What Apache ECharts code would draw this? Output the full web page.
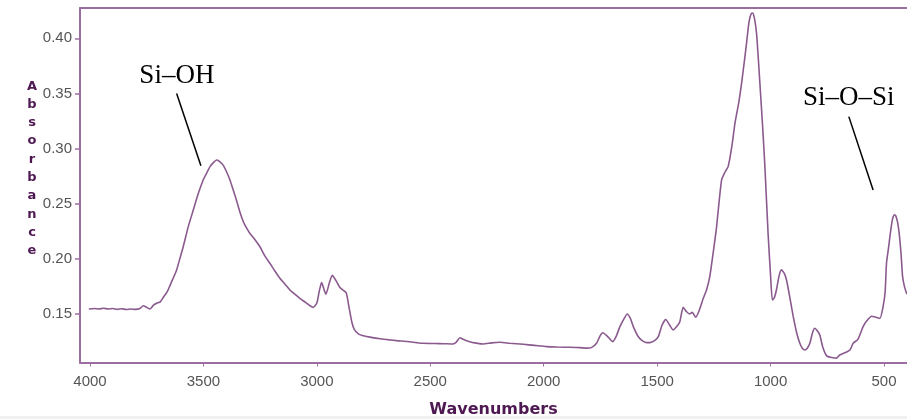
<!DOCTYPE html>
<html>
<head>
<meta charset="utf-8">
<script src="https://cdn.jsdelivr.net/npm/echarts@6/dist/echarts.min.js"></script>
<style>
html,body{margin:0;padding:0;background:#fff;}
#c{width:907px;height:419px;}
</style>
</head>
<body>
<div id="c"></div>
<script>
// ---- data ----
var xTicks = [4000, 3500, 3000, 2500, 2000, 1500, 1000, 500];
var yTicks = [0.15, 0.20, 0.25, 0.30, 0.35, 0.40];
var xName = 'Wavenumbers';
var yName = 'Absorbance';
var spectrum = [
[4005,0.1545],[3980,0.1550],[3960,0.1545],[3940,0.1552],[3920,0.1545],[3900,0.1550],
[3880,0.1542],[3860,0.1548],[3840,0.1540],[3820,0.1545],[3800,0.1542],[3780,0.1550],
[3765,0.1575],[3750,0.1560],[3736,0.1545],[3720,0.1580],[3706,0.1597],[3690,0.1610],
[3677,0.1650],[3660,0.1700],[3647,0.1760],[3630,0.1840],[3618,0.1900],[3600,0.2030],
[3589,0.2110],[3567,0.2290],[3545,0.2440],[3523,0.2590],[3501,0.2715],[3485,0.2780],
[3471,0.2836],[3455,0.2875],[3442,0.2896],[3430,0.2885],[3413,0.2850],[3398,0.2790],
[3383,0.2715],[3368,0.2620],[3354,0.2530],[3340,0.2430],[3324,0.2337],[3310,0.2280],
[3295,0.2230],[3275,0.2180],[3251,0.2110],[3230,0.2030],[3207,0.1960],[3185,0.1890],
[3163,0.1824],[3140,0.1770],[3119,0.1718],[3097,0.1680],[3075,0.1642],[3050,0.1605],
[3030,0.1575],[3016,0.1560],[3000,0.1600],[2990,0.1700],[2979,0.1785],[2968,0.1720],
[2960,0.1680],[2945,0.1780],[2932,0.1850],[2915,0.1800],[2898,0.1740],[2880,0.1710],
[2870,0.1690],[2858,0.1560],[2845,0.1420],[2835,0.1360],[2817,0.1320],[2790,0.1300],
[2766,0.1290],[2720,0.1275],[2680,0.1265],[2648,0.1258],[2600,0.1250],[2560,0.1240],
[2531,0.1234],[2480,0.1232],[2440,0.1230],[2400,0.1228],[2385,0.1245],[2369,0.1285],
[2355,0.1270],[2340,0.1258],[2310,0.1240],[2267,0.1228],[2230,0.1238],[2193,0.1243],
[2150,0.1235],[2090,0.1225],[2040,0.1215],[1987,0.1204],[1940,0.1200],[1885,0.1198],
[1840,0.1195],[1811,0.1190],[1790,0.1195],[1767,0.1234],[1752,0.1300],[1740,0.1330],
[1720,0.1300],[1696,0.1249],[1680,0.1300],[1664,0.1385],[1645,0.1460],[1632,0.1500],
[1618,0.1460],[1605,0.1385],[1585,0.1300],[1569,0.1264],[1550,0.1242],[1532,0.1240],
[1510,0.1260],[1495,0.1294],[1478,0.1400],[1462,0.1450],[1445,0.1400],[1429,0.1355],
[1412,0.1390],[1400,0.1430],[1385,0.1560],[1370,0.1520],[1357,0.1500],[1345,0.1515],
[1330,0.1470],[1315,0.1530],[1297,0.1640],[1282,0.1720],[1268,0.1838],[1250,0.2100],
[1238,0.2290],[1216,0.2715],[1200,0.2790],[1187,0.2836],[1170,0.3030],[1157,0.3229],
[1140,0.3420],[1128,0.3590],[1115,0.3800],[1106,0.3955],[1095,0.4150],[1085,0.4225],
[1078,0.4230],[1070,0.4170],[1062,0.4050],[1055,0.3850],[1047,0.3590],[1035,0.3200],
[1025,0.2836],[1011,0.2232],[1000,0.1850],[992,0.1627],[983,0.1650],[974,0.1720],
[962,0.1850],[952,0.1900],[940,0.1870],[930,0.1810],[915,0.1650],[900,0.1476],
[885,0.1330],[871,0.1234],[860,0.1190],[849,0.1174],[838,0.1190],[827,0.1234],
[815,0.1330],[805,0.1370],[795,0.1350],[783,0.1310],[770,0.1200],[753,0.1120],
[730,0.1105],[709,0.1100],[695,0.1128],[670,0.1150],[650,0.1174],[636,0.1234],
[615,0.1270],[592,0.1385],[575,0.1440],[555,0.1480],[535,0.1470],[518,0.1460],
[504,0.1566],[495,0.1700],[489,0.1960],[480,0.2100],[474,0.2200],[466,0.2320],
[460,0.2380],[454,0.2400],[448,0.2390],[440,0.2330],[433,0.2230],[425,0.2050],
[418,0.1840],[410,0.1750],[401,0.1690],[398,0.1680]
];
// annotations: label text, label anchor, pointer line start / end (data coords)
var annLabels = ['Si\u2013OH', 'Si\u2013O\u2013Si'];
var annText = [[3617, 0.3658], [655, 0.3459]];
var annFrom = [[3618, 0.3500], [655, 0.3290]];
var annTo   = [[3511, 0.2845], [548, 0.2624]];

// ---- chart ----
var axisColor = '#9c6ea0';
var lineColor = '#8a5a8f';
var titleColor = '#4e1852';
var chart = echarts.init(document.getElementById('c'), null, {renderer: 'canvas'});
var option = {
  animation: false,
  backgroundColor: '#ffffff',
  grid: {left: 80, right: 0, top: 8, bottom: 56.5, containLabel: false, outerBoundsMode: 'none'},
  xAxis: [{
    type: 'value', inverse: true, min: 398.6, max: 4044,
    name: xName, nameLocation: 'middle', nameGap: 39,
    nameTextStyle: {fontFamily: 'DejaVu Sans', fontWeight: 'bold', fontSize: 16, color: titleColor},
    axisLine: {show: true, onZero: false, lineStyle: {color: axisColor, width: 2}},
    axisTick: {show: true, length: 4, customValues: xTicks, lineStyle: {color: axisColor, width: 1}},
    axisLabel: {customValues: xTicks, margin: 12, fontFamily: 'Liberation Sans', fontSize: 15, color: '#555',
      formatter: function (v) { return String(Math.round(v)); }},
    splitLine: {show: false}
  }, {
    type: 'value', position: 'top', inverse: true, min: 398.6, max: 4044,
    axisLine: {show: true, onZero: false, lineStyle: {color: axisColor, width: 2}},
    axisTick: {show: false}, axisLabel: {show: false}, splitLine: {show: false}
  }],
  yAxis: {
    type: 'value', min: 0.106, max: 0.4275,
    axisLine: {show: true, onZero: false, lineStyle: {color: axisColor, width: 2}},
    axisTick: {show: true, length: 5, customValues: yTicks, lineStyle: {color: axisColor, width: 1.5}},
    axisLabel: {customValues: yTicks, margin: 8, fontFamily: 'Liberation Sans', fontSize: 15, color: '#555',
      formatter: function (v) { return v.toFixed(2); }},
    splitLine: {show: false}
  },
  series: [{
    type: 'line', data: spectrum, showSymbol: false, smooth: 0.2,
    lineStyle: {color: lineColor, width: 1.6}, silent: true
  }],
  graphic: []
};
chart.setOption(option);

// annotations placed through the axes' scales
var g = [];
for (var i = 0; i < annLabels.length; i++) {
  var t = chart.convertToPixel({gridIndex: 0}, annText[i]);
  var a = chart.convertToPixel({gridIndex: 0}, annFrom[i]);
  var b = chart.convertToPixel({gridIndex: 0}, annTo[i]);
  g.push({type: 'text', x: t[0], y: t[1], style: {text: annLabels[i], fill: '#000',
    font: '27px "Liberation Serif", serif', align: 'center', verticalAlign: 'middle'}, silent: true});
  g.push({type: 'line', shape: {x1: a[0], y1: a[1], x2: b[0], y2: b[1]},
    style: {stroke: '#000', lineWidth: 1.5}, silent: true});
}
// vertical y-axis title (stacked letters)
g.push({type: 'text', x: 32, y: 77, style: {text: yName.split('').join('\n'), fill: titleColor,
  font: 'bold 13px "DejaVu Sans"', align: 'center', verticalAlign: 'top', lineHeight: 18.3}, silent: true});
g.push({type: 'rect', shape: {x: 0, y: 416, width: 907, height: 3}, style: {fill: '#f0f0f0'}, silent: true, z: -1});
chart.setOption({graphic: g});
</script>
</body>
</html>
